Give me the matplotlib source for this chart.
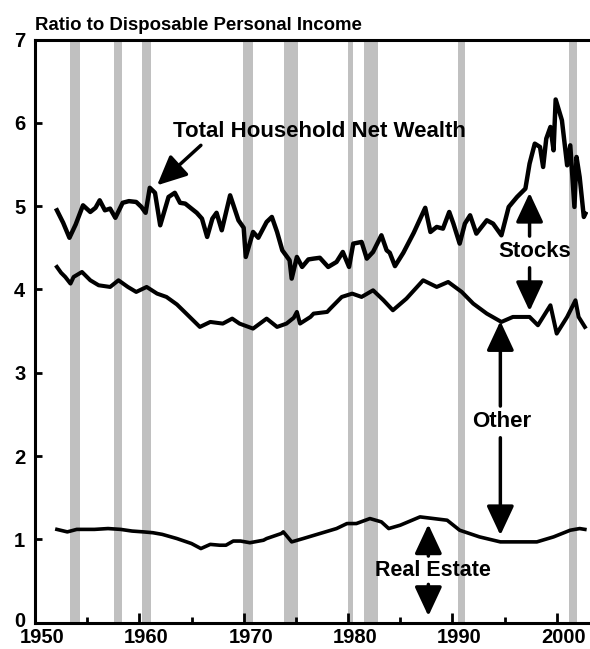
import numpy as np
from matplotlib import pyplot as plt
from matplotlib import rc
from matplotlib import transforms
from matplotlib.ticker import MultipleLocator

rc('font', family='Liberation Sans', weight='bold', size=13)

# recession bands (start, end)
recessions = [(1953.4, 1954.35), (1957.6, 1958.3), (1960.3, 1961.1),
              (1969.9, 1970.9), (1973.9, 1975.2), (1980.0, 1980.5),
              (1981.5, 1982.9), (1990.5, 1991.2), (2001.2, 2001.9)]

year_ticks = [1950, 1960, 1970, 1980, 1990, 2000]
ratio_ticks = [0, 1, 2, 3, 4, 5, 6, 7]

# total household net wealth
nw_years = [1952.1, 1952.7, 1953.3, 1953.9, 1954.6, 1955.3, 1955.8, 1956.2, 1956.7, 1957.2,
            1957.7, 1958.4, 1959.0, 1959.7, 1960.2, 1960.6, 1961.0, 1961.5, 1962.0, 1962.8,
            1963.4, 1963.9, 1964.4, 1964.9, 1965.5, 1966.0, 1966.5, 1967.0, 1967.4, 1967.9,
            1968.7, 1969.5, 1970.0, 1970.2, 1970.9, 1971.4, 1972.2, 1972.7, 1973.2, 1973.7,
            1974.4, 1974.6, 1975.1, 1975.6, 1976.2, 1976.7, 1977.3, 1978.1, 1978.9, 1979.5,
            1980.1, 1980.5, 1981.3, 1981.8, 1982.4, 1983.2, 1983.7, 1984.0, 1984.5, 1985.3,
            1986.3, 1987.4, 1987.9, 1988.5, 1989.1, 1989.7, 1990.1, 1990.7, 1991.2, 1991.7,
            1992.3, 1993.3, 1993.9, 1994.7, 1995.4, 1996.2, 1997.0, 1997.4, 1997.9, 1998.4,
            1998.7, 1999.0, 1999.4, 1999.7, 1999.9, 2000.5, 2001.0, 2001.3, 2001.7, 2001.9,
            2002.2, 2002.6, 2002.75]
nw_values = [4.95, 4.80, 4.62, 4.78, 5.01, 4.93, 4.98, 5.07, 4.95, 4.97,
             4.86, 5.04, 5.06, 5.05, 4.99, 4.92, 5.22, 5.16, 4.77, 5.11,
             5.16, 5.04, 5.03, 4.98, 4.92, 4.85, 4.63, 4.85, 4.92, 4.71,
             5.13, 4.83, 4.74, 4.39, 4.69, 4.62, 4.81, 4.87, 4.69, 4.47,
             4.35, 4.13, 4.39, 4.27, 4.36, 4.37, 4.38, 4.27, 4.33, 4.45,
             4.27, 4.55, 4.57, 4.37, 4.45, 4.65, 4.47, 4.44, 4.28, 4.44,
             4.68, 4.98, 4.69, 4.75, 4.73, 4.93, 4.79, 4.55, 4.79, 4.89,
             4.67, 4.83, 4.79, 4.65, 4.99, 5.11, 5.21, 5.51, 5.75, 5.71,
             5.47, 5.81, 5.95, 5.67, 6.28, 6.03, 5.49, 5.73, 4.99, 5.59,
             5.35, 4.87, 4.91]

# net wealth excluding stocks
ot_years = [1952.1, 1952.5, 1952.9, 1953.4, 1953.7, 1954.5, 1955.3, 1956.1, 1957.2, 1958.0,
            1958.9, 1959.7, 1960.7, 1961.7, 1962.6, 1963.6, 1964.5, 1965.8, 1966.8, 1968.0,
            1968.9, 1969.6, 1970.9, 1972.2, 1973.2, 1974.1, 1974.8, 1975.1, 1975.4, 1976.4,
            1976.7, 1978.0, 1978.3, 1979.4, 1980.4, 1981.3, 1982.4, 1983.4, 1984.3, 1985.6,
            1987.2, 1988.5, 1989.6, 1990.9, 1992.0, 1993.3, 1994.7, 1995.8, 1997.4, 1998.2,
            1999.4, 2000.0, 2001.0, 2001.8, 2002.1, 2002.7]
ot_values = [4.27, 4.20, 4.15, 4.07, 4.15, 4.21, 4.11, 4.05, 4.03, 4.11,
             4.03, 3.97, 4.03, 3.95, 3.91, 3.82, 3.71, 3.55, 3.61, 3.59,
             3.65, 3.59, 3.53, 3.65, 3.55, 3.59, 3.66, 3.73, 3.59, 3.67,
             3.71, 3.73, 3.77, 3.91, 3.95, 3.91, 3.99, 3.87, 3.75, 3.89,
             4.11, 4.03, 4.09, 3.97, 3.83, 3.71, 3.61, 3.67, 3.67, 3.57,
             3.81, 3.47, 3.67, 3.87, 3.67, 3.55]

# real estate
re_years = [1952.1, 1953.1, 1954.0, 1955.7, 1957.0, 1958.2, 1959.3, 1960.4, 1961.3, 1962.2,
            1963.6, 1965.0, 1965.9, 1966.8, 1967.7, 1968.3, 1969.0, 1969.7, 1970.6, 1971.9,
            1972.2, 1973.6, 1973.8, 1974.6, 1975.7, 1977.3, 1978.9, 1979.9, 1980.8, 1982.1,
            1983.2, 1983.9, 1985.0, 1986.9, 1989.5, 1990.7, 1992.6, 1994.6, 1996.5, 1998.1,
            1999.7, 2001.3, 2002.2, 2002.7]
re_values = [1.12, 1.09, 1.12, 1.12, 1.13, 1.12, 1.10, 1.09, 1.08, 1.06,
             1.01, 0.95, 0.89, 0.94, 0.93, 0.93, 0.98, 0.98, 0.96, 0.99,
             1.01, 1.07, 1.09, 0.97, 1.01, 1.07, 1.13, 1.19, 1.19, 1.25,
             1.21, 1.13, 1.17, 1.27, 1.23, 1.11, 1.03, 0.97, 0.97, 0.97,
             1.03, 1.11, 1.13, 1.12]

fig = plt.figure(figsize=(5.9, 6.49), dpi=100)
ax = fig.add_axes([35 / 590, 26.3 / 649, 553 / 590, 583.2 / 649])

for start, end in recessions:
    ax.axvspan(start, end, color='#c0c0c0', lw=0, zorder=0)

ax.plot(nw_years, nw_values, color='black', lw=3.2, zorder=3)
ax.plot(ot_years, ot_values, color='black', lw=2.9, zorder=3)
ax.plot(re_years, re_values, color='black', lw=2.6, zorder=3)

ax.set_xlim(1950, 2003)
ax.set_ylim(0, 7)
ax.set_xticks(year_ticks)
ax.set_yticks(ratio_ticks)
ax.xaxis.set_minor_locator(MultipleLocator(5))

for side in ['left', 'bottom', 'top']:
    ax.spines[side].set_linewidth(2.2)
ax.spines['right'].set_visible(False)

ax.tick_params(axis='x', which='major', direction='in', length=7, width=2, pad=4, labelsize=14.5)
ax.tick_params(axis='x', which='minor', direction='in', length=4, width=2)
ax.tick_params(axis='y', which='major', direction='in', length=5, width=2, pad=7, labelsize=14.5)
ax.tick_params(top=False, right=False, which='both')

# year labels sit a little to the right of their ticks in the original
shift = transforms.ScaledTranslation(7 / 100, 0, fig.dpi_scale_trans)
for lbl in ax.get_xticklabels():
    lbl.set_transform(lbl.get_transform() + shift)
lift = transforms.ScaledTranslation(0, 3 / 100, fig.dpi_scale_trans)
zero_lbl = ax.get_yticklabels()[0]
zero_lbl.set_transform(zero_lbl.get_transform() + lift)

fig.text(35 / 590, 1 - 30 / 649, "Ratio to Disposable Personal Income",
         fontsize=13.4, fontweight='bold', va='baseline', ha='left')

arrow = dict(arrowstyle='-|>,head_length=0.9,head_width=0.42', lw=2.5,
             color='black', shrinkA=0, shrinkB=0, mutation_scale=20)

ax.text(1963.2, 5.90, "Total Household Net Wealth", fontsize=16, ha='left', va='center')
ax.annotate("", xy=(1961.7, 5.25), xytext=(1965.9, 5.73), arrowprops=arrow)

# stocks
ax.text(1997.9, 4.45, "Stocks", fontsize=16, ha='center', va='center')
ax.annotate("", xy=(1997.4, 5.16), xytext=(1997.4, 4.64), arrowprops=arrow)
ax.annotate("", xy=(1997.4, 3.74), xytext=(1997.4, 4.26), arrowprops=arrow)

# other
ax.text(1994.7, 2.41, "Other", fontsize=16, ha='center', va='center')
ax.annotate("", xy=(1994.6, 3.62), xytext=(1994.6, 2.60), arrowprops=arrow)
ax.annotate("", xy=(1994.6, 1.05), xytext=(1994.6, 2.22), arrowprops=arrow)

# real estate
ax.text(1988.1, 0.63, "Real Estate", fontsize=15.5, ha='center', va='center')
ax.annotate("", xy=(1987.7, 1.18), xytext=(1987.7, 0.80), arrowprops=arrow)
ax.annotate("", xy=(1987.7, 0.08), xytext=(1987.7, 0.46), arrowprops=arrow)

plt.savefig("out.png", dpi=100)
